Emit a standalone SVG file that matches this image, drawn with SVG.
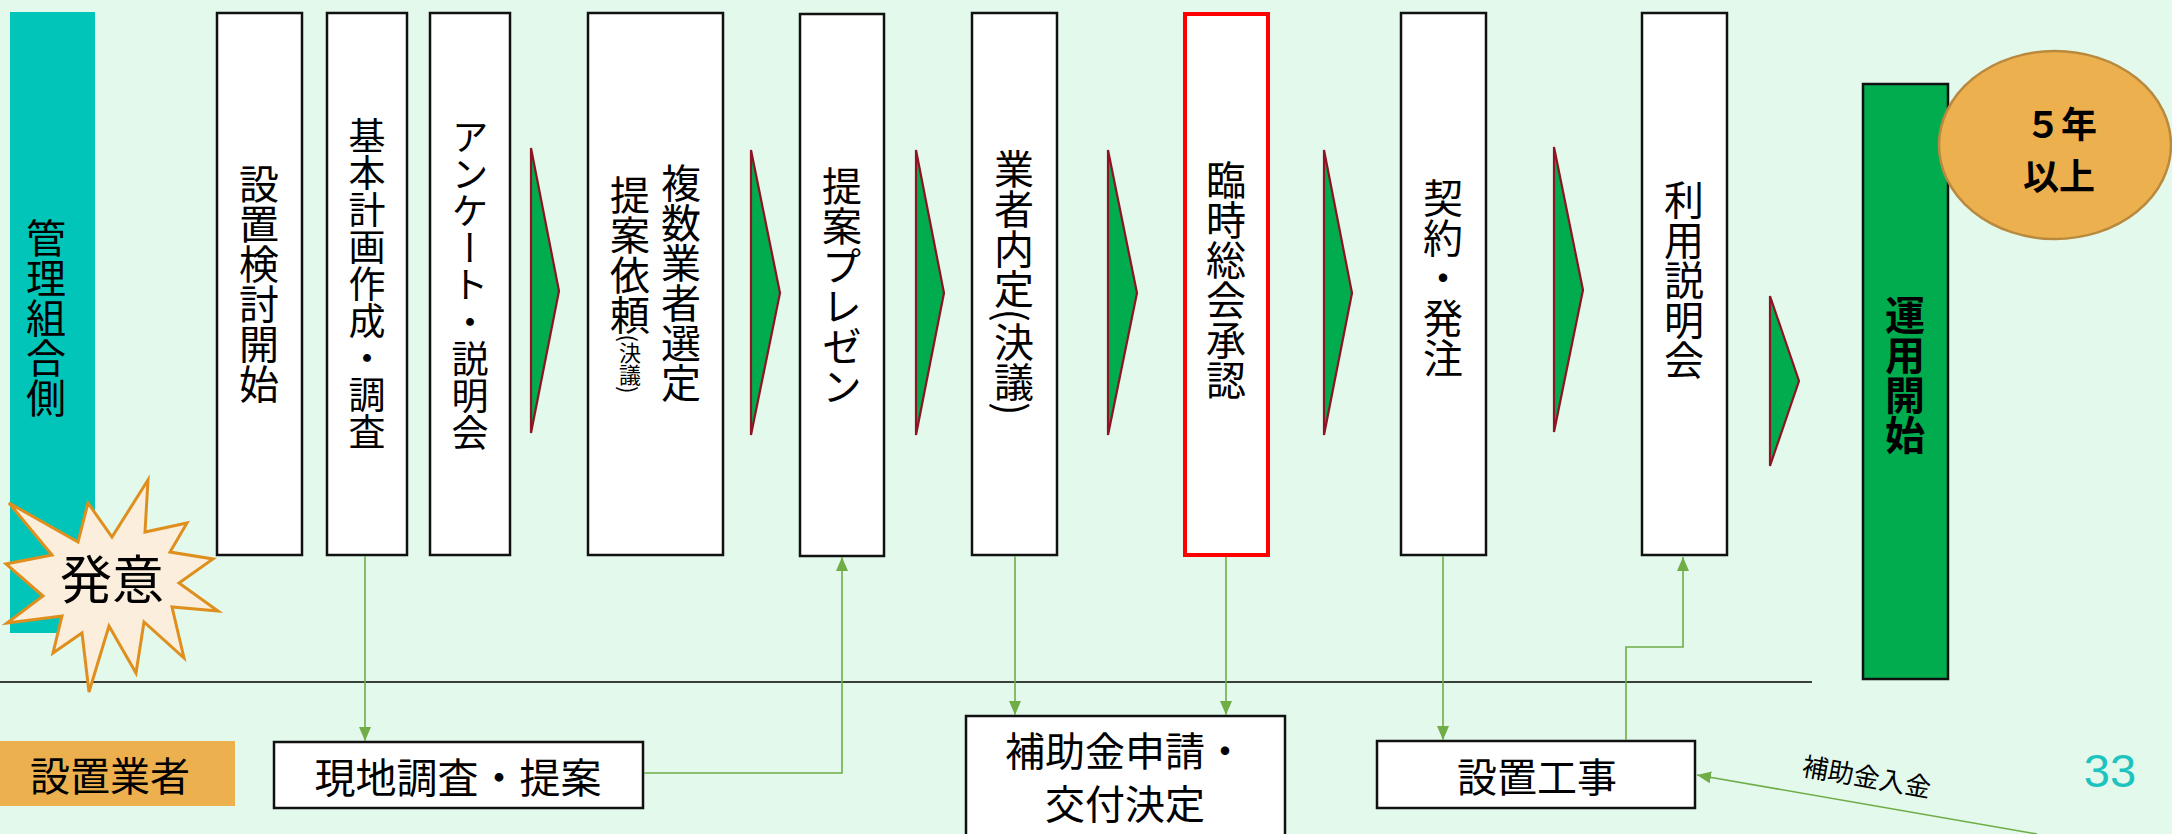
<svg xmlns="http://www.w3.org/2000/svg" width="2172" height="834" viewBox="0 0 2172 834">
<defs>
<style>
.jp{font-family:"Noto Sans CJK JP","Noto Sans",sans-serif;fill:#000}
.v{writing-mode:vertical-rl;text-anchor:middle}
.c{text-anchor:middle;dominant-baseline:central}
.box{fill:#fff;stroke:#111;stroke-width:2.5}
.chev{fill:#00AC4E;stroke:#8E1423;stroke-width:2.2;stroke-linejoin:miter}
.con{fill:none;stroke:#70AD47;stroke-width:1.6}
</style>
<marker id="ah" markerUnits="userSpaceOnUse" markerWidth="14" markerHeight="12" refX="14" refY="6" orient="auto">
<path d="M0,0 L14,6 L0,12 z" fill="#70AD47"/>
</marker>
</defs>
<rect x="0" y="0" width="2172" height="834" fill="#E2F9EC"/>

<g id="lane-kanri">
<rect x="10" y="12" width="85" height="621" fill="#00C5B8"/>
<text class="jp v" x="46" y="318" font-size="40" fill="#0a2a28">管理組合側</text>
</g>

<line x1="0" y1="682" x2="1812" y2="682" stroke="#000" stroke-width="1.5"/>

<g id="hatsui">
<polygon points="148,480 145,532 187,523 170,552 213,559 179,583 218,611 172,607 184,658 144,622 136,673 109,626 89,692 82,633 53,653 62,616 7,623 43,596 6,564 52,555 9,503 78,542 88,503 112,537" fill="#FCEEDC" stroke="#DF8F1E" stroke-width="3" stroke-linejoin="miter"/>
<text class="jp c" x="112" y="576" font-size="52">発意</text>
</g>

<g id="n1"><rect class="box" x="217" y="13" width="85" height="542"/><text class="jp v" x="259" y="284" font-size="40">設置検討開始</text></g>
<g id="n2"><rect class="box" x="327" y="13" width="80" height="542"/><text class="jp v" x="367" y="284" font-size="37">基本計画作成・調査</text></g>
<g id="n3"><rect class="box" x="430" y="13" width="80" height="542"/><text class="jp v" x="470" y="285" font-size="37">アンケート・説明会</text></g>
<g id="n4"><rect class="box" x="588" y="13" width="135" height="542"/>
<text class="jp v" x="681" y="283" font-size="40">複数業者選定</text>
<text class="jp v" x="630" y="284" font-size="40">提案依頼<tspan font-size="22">(決議)</tspan></text></g>
<g id="n5"><rect class="box" x="800" y="14" width="84" height="542"/><text class="jp v" x="842" y="286" font-size="40">提案プレゼン</text></g>
<g id="n6"><rect class="box" x="972" y="13" width="85" height="542"/><text class="jp v" x="1014" y="282" font-size="40">業者内定(決議)</text></g>
<g id="n7"><rect x="1185" y="14" width="83" height="541" fill="#fff" stroke="#FF0000" stroke-width="4"/><text class="jp v" x="1226" y="280" font-size="40">臨時総会承認</text></g>
<g id="n8"><rect class="box" x="1401" y="13" width="85" height="542"/><text class="jp v" x="1443" y="278" font-size="40">契約・発注</text></g>
<g id="n9"><rect class="box" x="1642" y="13" width="85" height="542"/><text class="jp v" x="1684" y="280" font-size="40">利用説明会</text></g>

<g id="chevrons">
<polygon class="chev" points="531,148 559,291 531,433"/>
<polygon class="chev" points="751,150 780,293 751,435"/>
<polygon class="chev" points="916,150 944,293 916,435"/>
<polygon class="chev" points="1108,150 1137,293 1108,435"/>
<polygon class="chev" points="1324,150 1352,293 1324,435"/>
<polygon class="chev" points="1554,147 1583,290 1554,432"/>
<polygon class="chev" points="1770,296 1799,381 1770,466"/>
</g>

<g id="unyou">
<rect x="1863" y="84" width="85" height="595" fill="#00AC4E" stroke="#111" stroke-width="2.5"/>
<text class="jp v" x="1905" y="375" font-size="40" font-weight="bold">運用開始</text>
</g>

<g id="five-years">
<ellipse cx="2055" cy="145" rx="116" ry="94" fill="#EDB04F" stroke="#B98A3E" stroke-width="2.5"/>
<text class="jp c" x="2061" y="122" font-size="36" font-weight="bold">５年</text>
<text class="jp c" x="2059" y="174" font-size="36" font-weight="bold">以上</text>
</g>

<g id="lane-gyosha">
<rect x="0" y="741" width="235" height="65" fill="#EDB04F"/>
<text class="jp c" x="110" y="774" font-size="40">設置業者</text>
</g>

<g id="b1"><rect class="box" x="274" y="742" width="369" height="66"/><text class="jp c" x="458" y="775" font-size="41">現地調査・提案</text></g>
<g id="b2"><rect class="box" x="966" y="716" width="319" height="130"/>
<text class="jp c" x="1125" y="749" font-size="40">補助金申請・</text>
<text class="jp c" x="1125" y="802" font-size="40">交付決定</text></g>
<g id="b3"><rect class="box" x="1377" y="741" width="318" height="67"/><text class="jp c" x="1537" y="775" font-size="40">設置工事</text></g>

<g id="connectors">
<path class="con" d="M365,556 V741" marker-end="url(#ah)"/>
<path class="con" d="M644,773 H842 V557" marker-end="url(#ah)"/>
<path class="con" d="M1015,556 V715" marker-end="url(#ah)"/>
<path class="con" d="M1226,557 V715" marker-end="url(#ah)"/>
<path class="con" d="M1443,556 V740" marker-end="url(#ah)"/>
<path class="con" d="M1626,740 V647 H1683 V557" marker-end="url(#ah)"/>
<path class="con" d="M2037,834 L1697,775" marker-end="url(#ah)"/>
<text class="jp c" x="1867" y="775" font-size="26" transform="rotate(10 1867 775)">補助金入金</text>
</g>

<text x="2110" y="787" font-family="Liberation Sans, Arial, sans-serif" font-size="47" fill="#1DC3BE" text-anchor="middle">33</text>
</svg>
